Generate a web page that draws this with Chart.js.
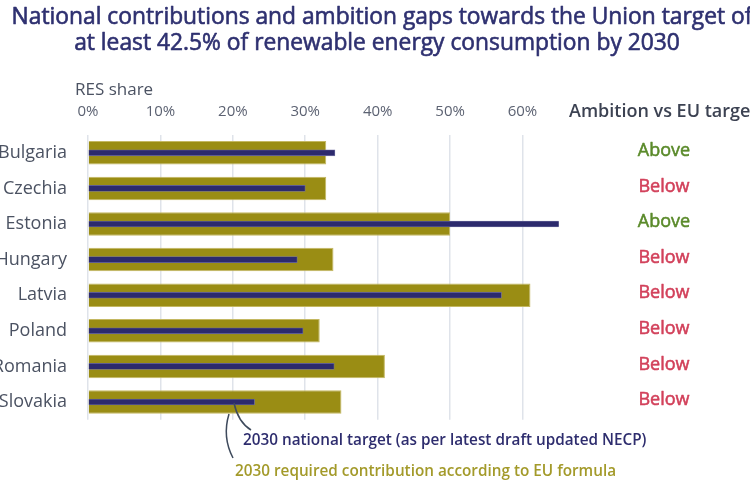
<!DOCTYPE html>
<html>
<head>
<meta charset="utf-8">
<script src="https://cdn.jsdelivr.net/npm/chart.js@4.4.1/dist/chart.umd.min.js"></script>
<style>
  html, body { margin: 0; padding: 0; background: #ffffff; }
  #wrap { width: 750px; height: 481px; position: relative; overflow: hidden; }
</style>
</head>
<body>
<div id="wrap"><canvas id="c" width="750" height="481"></canvas></div>
<script>
// ---- Data ----
const categories = ['Bulgaria', 'Czechia', 'Estonia', 'Hungary', 'Latvia', 'Poland', 'Romania', 'Slovakia'];
const requiredContribution = [32.9, 32.9, 50.0, 33.9, 61.1, 32.0, 41.0, 35.0];
const nationalTarget = [34.1, 30.0, 65.1, 28.9, 57.1, 29.7, 34.0, 23.0];
const ambition = ['Above', 'Below', 'Above', 'Below', 'Below', 'Below', 'Below', 'Below'];
const xTickValues = [0, 10, 20, 30, 40, 50, 60];

const titleLines = [
  'National contributions and ambition gaps towards the Union target of',
  'at least 42.5% of renewable energy consumption by 2030'
];
const axisTitle = 'RES share';
const ambitionHeader = 'Ambition vs EU target';
const nationalLabel = '2030 national target (as per latest draft updated NECP)';
const requiredLabel = '2030 required contribution according to EU formula';

const FONT = '"Open Sans", "Noto Sans", sans-serif';
const NAVY = '#2e2d6e';
const GOLD = '#9a8d14';

function mediumText(ctx, text, x, y, color, strokeW) {
  ctx.fillStyle = color;
  ctx.strokeStyle = color;
  ctx.lineWidth = strokeW;
  ctx.lineJoin = 'round';
  ctx.strokeText(text, x, y);
  ctx.fillText(text, x, y);
}

const overlay = {
  id: 'overlay',
  afterDraw(chart) {
    const ctx = chart.ctx;
    const y = chart.scales.y;
    ctx.save();
    // Title
    ctx.font = '400 22.8px ' + FONT;
    ctx.textAlign = 'center';
    ctx.textBaseline = 'middle';
    mediumText(ctx, titleLines[0], 382, 18, '#2e3070', 0.6);
    mediumText(ctx, titleLines[1], 377, 44, '#2e3070', 0.6);

    // Axis title
    ctx.font = '400 17px ' + FONT;
    ctx.fillStyle = '#4b5262';
    ctx.textAlign = 'left';
    ctx.fillText(axisTitle, 75, 90);

    // Ambition header
    ctx.font = '600 18px ' + FONT;
    ctx.fillStyle = '#3c4252';
    ctx.fillText(ambitionHeader, 569, 112);

    // Ambition labels
    ctx.font = '400 18px ' + FONT;
    ctx.textAlign = 'center';
    ambition.forEach((a, i) => {
      const col = a === 'Above' ? '#5a8a2a' : '#d2405a';
      mediumText(ctx, a, 664, y.getPixelForValue(i) - 2, col, 0.55);
    });

    // Connector lines
    const ySl = y.getPixelForValue(categories.length - 1);
    ctx.strokeStyle = '#3e4a5c';
    ctx.lineWidth = 1.5;
    ctx.beginPath();
    ctx.moveTo(234, ySl + 1);
    ctx.quadraticCurveTo(238, ySl + 20, 251, ySl + 28);
    ctx.stroke();
    ctx.beginPath();
    ctx.moveTo(229, ySl + 12);
    ctx.quadraticCurveTo(222, ySl + 35, 233, ySl + 56);
    ctx.stroke();

    // Annotation texts
    ctx.textAlign = 'left';
    ctx.font = '600 15.3px ' + FONT;
    ctx.fillStyle = NAVY;
    ctx.fillText(nationalLabel, 243, 441);
    ctx.fillStyle = '#a39a2a';
    ctx.fillText(requiredLabel, 235, 472);
    ctx.restore();
  }
};

new Chart(document.getElementById('c'), {
  type: 'bar',
  data: {
    labels: categories,
    datasets: [
      {
        label: 'National target',
        data: nationalTarget,
        backgroundColor: '#2c2a6d',
        borderColor: '#6f6ea0',
        borderWidth: 0.8,
        barThickness: 6,
        grouped: false
      },
      {
        label: 'Required contribution',
        data: requiredContribution,
        backgroundColor: GOLD,
        borderColor: '#c4b862',
        borderWidth: 1,
        barPercentage: 0.66,
        categoryPercentage: 1,
        grouped: false
      }
    ]
  },
  options: {
    indexAxis: 'y',
    responsive: false,
    animation: false,
    devicePixelRatio: 1,
    layout: { padding: { left: 0, right: 191.3, top: 0, bottom: 61.2 } },
    plugins: { legend: { display: false }, tooltip: { enabled: false }, title: { display: false } },
    scales: {
      x: {
        type: 'linear',
        position: 'top',
        min: 0,
        max: 65,
        afterBuildTicks: s => { s.ticks = xTickValues.map(v => ({ value: v })); },
        afterFit: s => { s.height = 135; },
        ticks: {
          callback: v => v + '%',
          font: { family: FONT, size: 15 },
          color: '#5c6272',
          padding: 14,
          maxRotation: 0
        },
        grid: { color: '#dfe3ea', lineWidth: 1.5, drawTicks: false },
        border: { display: false }
      },
      y: {
        type: 'category',
        afterFit: s => { s.width = 88; },
        ticks: {
          font: { family: FONT, size: 18 },
          color: '#4b5262',
          padding: 13
        },
        grid: { display: false },
        border: { display: false }
      }
    }
  },
  plugins: [overlay]
});
</script>
</body>
</html>
